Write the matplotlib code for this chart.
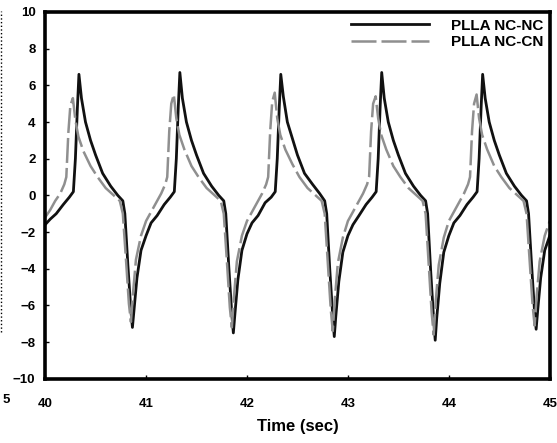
import numpy as np
import matplotlib
matplotlib.use("Agg")
import matplotlib.pyplot as plt

plt.rcParams["font.family"] = ["Liberation Sans", "DejaVu Sans"]
plt.rcParams["font.weight"] = "bold"

# PLLA NC-NC output voltage, one row per cycle
nc_nc_t = [
    40.00, 40.05, 40.11, 40.18, 40.24, 40.28, 40.30, 40.32, 40.335, 40.36, 40.40, 40.45,
    40.50, 40.57, 40.65, 40.72, 40.77, 40.79, 40.82, 40.85, 40.865, 40.88, 40.91, 40.95,
    41.00, 41.05, 41.11, 41.18, 41.24, 41.28, 41.30, 41.32, 41.335, 41.36, 41.40, 41.45,
    41.50, 41.57, 41.65, 41.72, 41.77, 41.79, 41.82, 41.85, 41.865, 41.88, 41.91, 41.95,
    42.00, 42.05, 42.11, 42.18, 42.24, 42.28, 42.30, 42.32, 42.335, 42.36, 42.40, 42.45,
    42.50, 42.57, 42.65, 42.72, 42.77, 42.79, 42.82, 42.85, 42.865, 42.88, 42.91, 42.95,
    43.00, 43.05, 43.11, 43.18, 43.24, 43.28, 43.30, 43.32, 43.335, 43.36, 43.40, 43.45,
    43.50, 43.57, 43.65, 43.72, 43.77, 43.79, 43.82, 43.85, 43.865, 43.88, 43.91, 43.95,
    44.00, 44.05, 44.11, 44.18, 44.24, 44.28, 44.30, 44.32, 44.335, 44.36, 44.40, 44.45,
    44.50, 44.57, 44.65, 44.72, 44.77, 44.79, 44.82, 44.85, 44.865, 44.88, 44.91, 44.95,
    45.00,
]
nc_nc_v = [
    -1.6, -1.3, -1.0, -0.5, -0.1, 0.2, 2.0, 4.8, 6.6, 5.3, 4.0, 3.0,
    2.2, 1.2, 0.5, 0.0, -0.3, -1.0, -3.8, -6.3, -7.2, -6.3, -4.5, -3.0,
    -2.2, -1.5, -1.1, -0.5, -0.1, 0.2, 2.0, 4.9, 6.7, 5.3, 4.0, 3.0,
    2.2, 1.2, 0.5, 0.0, -0.3, -1.0, -3.9, -6.5, -7.5, -6.5, -4.6, -3.0,
    -2.1, -1.5, -1.1, -0.4, -0.1, 0.2, 2.0, 4.8, 6.6, 5.4, 4.0, 3.1,
    2.2, 1.2, 0.6, 0.1, -0.3, -1.0, -4.0, -6.6, -7.7, -6.6, -4.7, -3.1,
    -2.2, -1.6, -1.1, -0.5, -0.1, 0.2, 2.0, 4.9, 6.7, 5.3, 4.0, 3.0,
    2.2, 1.2, 0.5, 0.0, -0.3, -1.0, -4.1, -6.8, -7.9, -6.7, -4.8, -3.1,
    -2.2, -1.5, -1.1, -0.5, -0.1, 0.2, 2.0, 4.8, 6.6, 5.3, 4.0, 3.0,
    2.2, 1.2, 0.5, 0.0, -0.3, -1.0, -3.8, -6.4, -7.3, -6.3, -4.5, -3.0,
    -2.2,
]

# PLLA NC-CN output voltage
nc_cn_t = [
    40.00, 40.05, 40.10, 40.15, 40.19, 40.21, 40.23, 40.25, 40.275, 40.30, 40.33, 40.38,
    40.45, 40.52, 40.60, 40.68, 40.74, 40.77, 40.80, 40.83, 40.85, 40.87, 40.90, 40.95,
    41.00, 41.05, 41.10, 41.15, 41.19, 41.21, 41.23, 41.25, 41.275, 41.30, 41.33, 41.38,
    41.45, 41.52, 41.60, 41.68, 41.74, 41.77, 41.80, 41.83, 41.85, 41.87, 41.90, 41.95,
    42.00, 42.05, 42.10, 42.15, 42.19, 42.21, 42.23, 42.25, 42.275, 42.30, 42.33, 42.38,
    42.45, 42.52, 42.60, 42.68, 42.74, 42.77, 42.80, 42.83, 42.85, 42.87, 42.90, 42.95,
    43.00, 43.05, 43.10, 43.15, 43.19, 43.21, 43.23, 43.25, 43.275, 43.30, 43.33, 43.38,
    43.45, 43.52, 43.60, 43.68, 43.74, 43.77, 43.80, 43.83, 43.85, 43.87, 43.90, 43.95,
    44.00, 44.05, 44.10, 44.15, 44.19, 44.21, 44.23, 44.25, 44.275, 44.30, 44.33, 44.38,
    44.45, 44.52, 44.60, 44.68, 44.74, 44.77, 44.80, 44.83, 44.85, 44.87, 44.90, 44.95,
    45.00,
]
nc_cn_v = [
    -1.2, -0.8, -0.3, 0.1, 0.6, 1.0, 3.4, 4.9, 5.3, 4.1, 3.2, 2.4,
    1.6, 1.0, 0.4, 0.0, -0.3, -1.0, -3.4, -5.9, -6.9, -5.4, -3.5, -2.2,
    -1.4, -0.9, -0.4, 0.1, 0.6, 1.0, 3.5, 5.0, 5.5, 4.2, 3.3, 2.5,
    1.6, 1.0, 0.4, 0.0, -0.3, -1.0, -3.5, -6.1, -7.2, -5.6, -3.6, -2.2,
    -1.4, -0.9, -0.4, 0.1, 0.6, 1.0, 3.5, 5.1, 5.6, 4.2, 3.3, 2.5,
    1.7, 1.0, 0.4, 0.0, -0.3, -1.0, -3.6, -6.2, -7.4, -5.7, -3.7, -2.3,
    -1.4, -0.9, -0.4, 0.1, 0.6, 1.0, 3.5, 5.0, 5.4, 4.2, 3.3, 2.5,
    1.6, 1.0, 0.4, 0.0, -0.3, -1.0, -3.7, -6.4, -7.6, -5.8, -3.8, -2.3,
    -1.4, -0.9, -0.4, 0.1, 0.6, 1.0, 3.5, 5.0, 5.5, 4.2, 3.3, 2.5,
    1.6, 1.0, 0.4, 0.0, -0.3, -1.0, -3.5, -6.0, -7.1, -5.5, -3.6, -2.2,
    -1.4,
]

x_ticks = [40, 41, 42, 43, 44, 45]
y_ticks = [-10, -8, -6, -4, -2, 0, 2, 4, 6, 8, 10]

fig = plt.figure(figsize=(5.57, 4.43), dpi=100)
ax = fig.add_axes([0.081, 0.145, 0.906, 0.828])

ax.plot(nc_nc_t, nc_nc_v, color="#111111", lw=2.0, label="PLLA NC-NC")
ax.plot(nc_cn_t, nc_cn_v, color="#8f8f8f", lw=1.8, dashes=(10, 2), label="PLLA NC-CN")

ax.set_xlim(40, 45)
ax.set_ylim(-10, 10)
ax.set_xticks(x_ticks)
ax.set_yticks(y_ticks)
ax.tick_params(direction="in", length=3, width=1, labelsize=9.5)
ax.tick_params(axis="x", pad=14)
ax.tick_params(axis="y", pad=7)
for lbl in ax.get_xticklabels() + ax.get_yticklabels():
    lbl.set_fontweight("bold")
for s in ax.spines.values():
    s.set_linewidth(2.6)

ax.set_xlabel("Time (sec)", fontsize=12, fontweight="bold", labelpad=6)

leg = ax.legend(loc="upper right", frameon=False, fontsize=11, handlelength=5.1,
                handletextpad=1.4, borderaxespad=0.05, labelspacing=0.15)
for t in leg.get_texts():
    t.set_fontweight("bold")

# edge of the neighbouring panel
fig.text(0.004, 0.098, "5", fontsize=9.5, fontweight="bold", va="center")
fig.add_artist(plt.Line2D([0.002, 0.002], [0.25, 0.975], color="black",
                          lw=1, linestyle=":", transform=fig.transFigure))

fig.savefig("out.png", dpi=100)
